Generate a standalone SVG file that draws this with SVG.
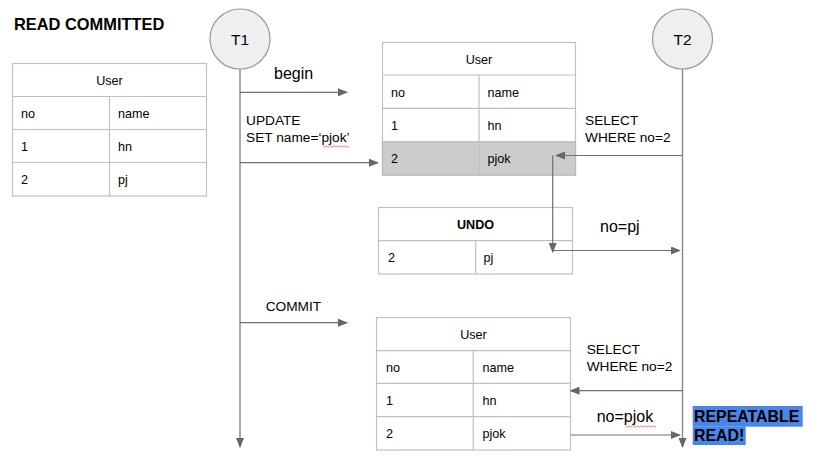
<svg xmlns="http://www.w3.org/2000/svg" width="822" height="467" viewBox="0 0 822 467">
<style>
text{font-family:"Liberation Sans",Arial,sans-serif;fill:#000}
.cell{fill:#fff;stroke:#c0c0c0;stroke-width:1.2}
.grid{stroke:#c0c0c0;stroke-width:1.2;fill:none}
.t{font-size:12.6px}
.lbl{font-size:13.7px}
.big{font-size:16px}
.bold{font-weight:bold}
.node{fill:#efefef;stroke:#999;stroke-width:1.2}
.arrow{stroke:#707070;stroke-width:1.2;fill:none;marker-end:url(#ah)}
.life1{stroke:#aaaaaa;stroke-width:2;fill:none;marker-end:url(#ah)}
.life2{stroke:#808080;stroke-width:1.3;fill:none;marker-end:url(#ah)}
.sq{stroke:#e06060;stroke-width:0.8;fill:none}
</style>
<defs>
<marker id="ah" markerWidth="10" markerHeight="8" refX="9" refY="4" orient="auto" markerUnits="userSpaceOnUse">
<path d="M0,0 L10,4 L0,8 z" fill="#666"/>
</marker>
</defs>
<rect width="822" height="467" fill="#fff"/>

<text class="bold" x="14" y="30" style="font-size:16.4px">READ COMMITTED</text>

<g id="table-left">
<rect class="cell" x="12.5" y="63.5" width="194" height="132.5"/>
<path class="grid" d="M12.5,96.5H206.5M12.5,129.5H206.5M12.5,162.5H206.5M109.5,96.5V196"/>
<text class="t" x="109.5" y="84.5" text-anchor="middle">User</text>
<text class="t" x="21" y="117.5">no</text><text class="t" x="118" y="117.5">name</text>
<text class="t" x="21" y="150.5">1</text><text class="t" x="118" y="150.5">hn</text>
<text class="t" x="21" y="183.5">2</text><text class="t" x="118" y="183.5">pj</text>
</g>

<g id="T1">
<circle class="node" cx="240" cy="39" r="30"/>
<text x="240" y="45" text-anchor="middle" style="font-size:15.5px">T1</text>
</g>

<g id="T2">
<circle class="node" cx="682.5" cy="39" r="30"/>
<text x="682.5" y="45" text-anchor="middle" style="font-size:15.5px">T2</text>
</g>

<g id="table-mid">
<rect class="cell" x="382.5" y="42.5" width="193" height="132.5"/>
<rect x="382.5" y="141.7" width="193" height="33.3" fill="#cccccc" stroke="#b8b8b8" stroke-width="1.2"/>
<path class="grid" d="M382.5,75H575.5M382.5,108.3H575.5M382.5,141.7H575.5M479,75V175"/>
<text class="t" x="479" y="63.5" text-anchor="middle">User</text>
<text class="t" x="391" y="96.5">no</text><text class="t" x="487.5" y="96.5">name</text>
<text class="t" x="391" y="129.5">1</text><text class="t" x="487.5" y="129.5">hn</text>
<text class="t" x="391" y="162.5">2</text><text class="t" x="487.5" y="162.5">pjok</text>
</g>

<g id="table-undo">
<rect class="cell" x="378.5" y="207.5" width="194" height="66.5"/>
<path class="grid" d="M378.5,240.7H572.5M475.7,240.7V274"/>
<text class="t bold" x="475.5" y="228.5" text-anchor="middle">UNDO</text>
<text class="t" x="388" y="261.8">2</text><text class="t" x="483.5" y="261.8">pj</text>
</g>

<g id="table-bottom">
<rect class="cell" x="376.5" y="317.5" width="194" height="132.5"/>
<path class="grid" d="M376.5,350.7H570.5M376.5,383.3H570.5M376.5,416.7H570.5M473.3,350.7V450"/>
<text class="t" x="473.5" y="338.5" text-anchor="middle">User</text>
<text class="t" x="386" y="371.5">no</text><text class="t" x="482.5" y="371.5">name</text>
<text class="t" x="386" y="404.5">1</text><text class="t" x="482.5" y="404.5">hn</text>
<text class="t" x="386" y="437.8">2</text><text class="t" x="482.5" y="437.8">pjok</text>
</g>

<g id="connectors">
<path class="life1" d="M240,69V447"/>
<path class="life2" d="M682.5,69V447"/>
<path class="arrow" d="M240,92.3H347"/>
<path class="arrow" d="M240,162.7H378"/>
<path class="arrow" d="M682.5,155.5H556"/>
<path class="arrow" d="M552.7,155.5V252"/>
<path class="arrow" d="M552.7,250.5H680"/>
<path class="arrow" d="M240,322.7H347"/>
<path class="arrow" d="M682.5,390.7H570.5"/>
<path class="arrow" d="M571,435H680"/>
</g>

<g id="labels">
<text class="big" x="274" y="78.5">begin</text>
<text class="lbl" x="246" y="125">UPDATE</text>
<text class="lbl" x="246" y="141.7">SET name=‘pjok’</text>
<path class="sq" d="M323,146.5 q1,1.5 2,0 t2,0 t2,0 t2,0 t2,0 t2,0 t2,0 t2,0 t2,0 t2,0 t2,0 t2,0 t2,0"/>
<text class="lbl" x="585" y="125">SELECT</text>
<text class="lbl" x="585" y="141.7">WHERE no=2</text>
<text class="big" x="600" y="231.7">no=pj</text>
<text class="lbl" x="265.7" y="310.7">COMMIT</text>
<text class="lbl" x="586.7" y="354">SELECT</text>
<text class="lbl" x="586.7" y="370.7">WHERE no=2</text>
<text class="big" x="596.7" y="421.7">no=pjok</text>
<path class="sq" d="M626,426.5 q1,1.5 2,0 t2,0 t2,0 t2,0 t2,0 t2,0 t2,0 t2,0 t2,0 t2,0 t2,0 t2,0 t2,0 t2,0 t2,0"/>
</g>

<g id="repeatable-read">
<rect x="692.7" y="406" width="110" height="20.7" fill="#4a86e8"/>
<rect x="692.7" y="426.7" width="53" height="18.3" fill="#4a86e8"/>
<text class="bold" x="694" y="421.7" style="font-size:15.9px">REPEATABLE</text>
<text class="bold" x="694" y="441" style="font-size:15.9px">READ!</text>
</g>
</svg>
